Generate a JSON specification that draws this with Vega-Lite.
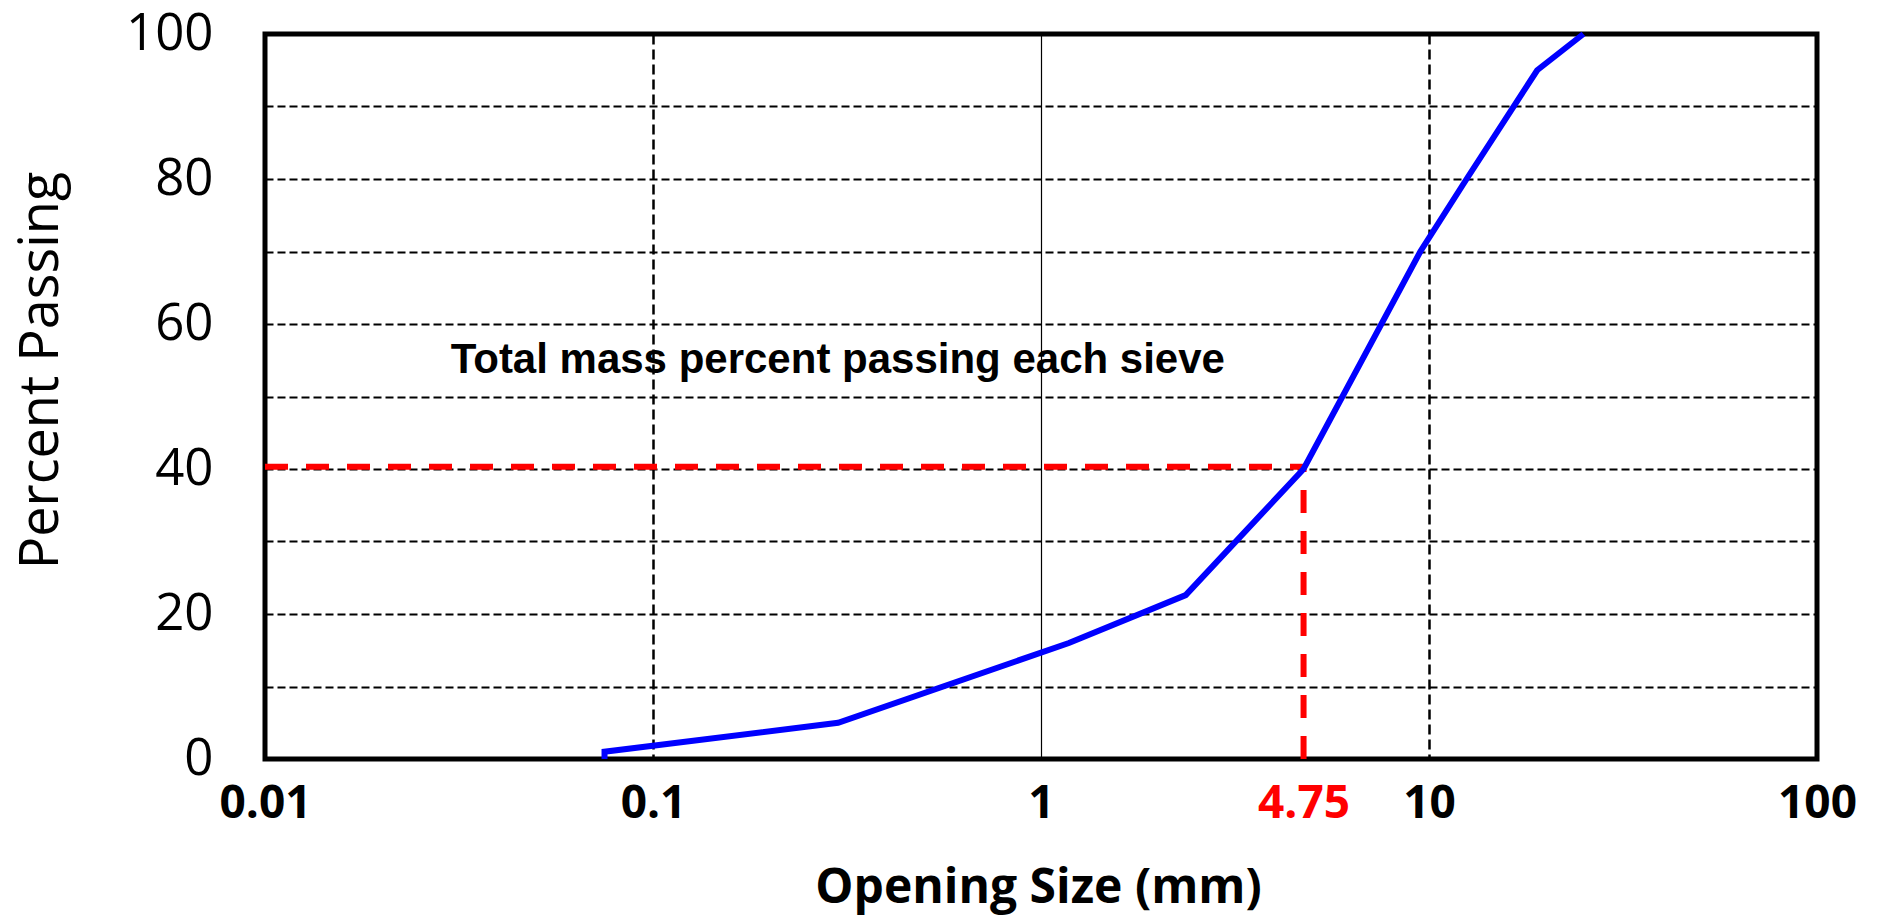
{
  "$schema": "https://vega.github.io/schema/vega-lite/v6.json",
  "width": 1552,
  "height": 725,
  "autosize": {"type": "none"},
  "padding": {"left": 265, "top": 34, "right": 60, "bottom": 157},
  "background": "white",
  "config": {"view": {"stroke": "black", "strokeWidth": 5}},
  "encoding": {
    "x": {
      "field": "size",
      "type": "quantitative",
      "scale": {"type": "log", "domain": [0.01, 100], "nice": false},
      "axis": {
        "values": [0.01, 0.1, 1, 4.75, 10, 100],
        "title": "Opening Size (mm)",
        "titleFont": "Open Sans",
        "titleFontSize": 48,
        "titleFontWeight": "bold",
        "titleColor": "black",
        "titleX": 773,
        "titleY": 143,
        "titleAlign": "center",
        "titleBaseline": "alphabetic",
        "labelFont": "Open Sans",
        "labelFontSize": 46,
        "labelFontWeight": "bold",
        "labelColor": {"condition": {"test": "datum.value == 4.75", "value": "#FF0000"}, "value": "black"},
        "labelExpr": "format(datum.value, '~g')",
        "labelPadding": 22,
        "labelOverlap": false,
        "labelFlush": false,
        "labelBound": false,
        "ticks": false,
        "tickSize": 0,
        "domain": false,
        "grid": true,
        "gridColor": "black",
        "gridDash": {"condition": {"test": "datum.value == 1", "value": []}, "value": [10, 5]},
        "gridWidth": {"condition": {"test": "datum.value == 1", "value": 1.2}, "value": 2.5},
        "gridOpacity": {"condition": {"test": "datum.value == 4.75", "value": 0}, "value": 1}
      }
    },
    "y": {
      "field": "passing",
      "type": "quantitative",
      "scale": {"domain": [0, 100], "nice": false},
      "axis": {
        "values": [0, 10, 20, 30, 40, 50, 60, 70, 80, 90, 100],
        "labelExpr": "datum.value % 20 == 0 ? datum.label : ''",
        "title": "Percent Passing",
        "titleFont": "Open Sans",
        "titleFontSize": 54,
        "titleFontWeight": "normal",
        "titleColor": "black",
        "titleAngle": -90,
        "titleX": -208,
        "titleY": 336,
        "titleAlign": "center",
        "titleBaseline": "alphabetic",
        "labelFont": "Open Sans",
        "labelFontSize": 51,
        "labelColor": "black",
        "labelPadding": 52,
        "labelOverlap": false,
        "labelFlush": false,
        "labelBound": false,
        "ticks": false,
        "tickSize": 0,
        "domain": false,
        "grid": true,
        "gridColor": "black",
        "gridDash": [8, 4],
        "gridWidth": 2
      }
    }
  },
  "layer": [
    {
      "data": {
        "values": [
          {"size": 0.01, "size2": 4.75, "passing": 40.3, "passing2": 40.3},
          {"size": 4.75, "size2": 4.75, "passing": 0, "passing2": 40}
        ]
      },
      "mark": {"type": "rule", "color": "#FF0000", "strokeWidth": 6, "strokeDash": [23, 18]},
      "encoding": {
        "x2": {"field": "size2"},
        "y2": {"field": "passing2"}
      }
    },
    {
      "data": {
        "values": [
          {"seq": 1, "size": 0.075, "passing": 0},
          {"seq": 2, "size": 0.075, "passing": 1},
          {"seq": 3, "size": 0.3, "passing": 5},
          {"seq": 4, "size": 1.18, "passing": 16},
          {"seq": 5, "size": 2.36, "passing": 22.6},
          {"seq": 6, "size": 4.75, "passing": 40},
          {"seq": 7, "size": 9.5, "passing": 70},
          {"seq": 8, "size": 12.5, "passing": 80},
          {"seq": 9, "size": 19, "passing": 95},
          {"seq": 10, "size": 25, "passing": 100}
        ]
      },
      "mark": {"type": "line", "color": "#0000FF", "strokeWidth": 6, "clip": false},
      "encoding": {
        "order": {"field": "seq", "type": "quantitative"}
      }
    },
    {
      "data": {
        "values": [
          {"size": 0.0301, "passing": 53.2, "label": "Total mass percent passing each sieve"}
        ]
      },
      "mark": {
        "type": "text",
        "align": "left",
        "baseline": "alphabetic",
        "font": "Liberation Sans",
        "fontWeight": "bold",
        "fontSize": 42,
        "color": "black"
      },
      "encoding": {
        "text": {"field": "label", "type": "nominal"}
      }
    }
  ]
}
